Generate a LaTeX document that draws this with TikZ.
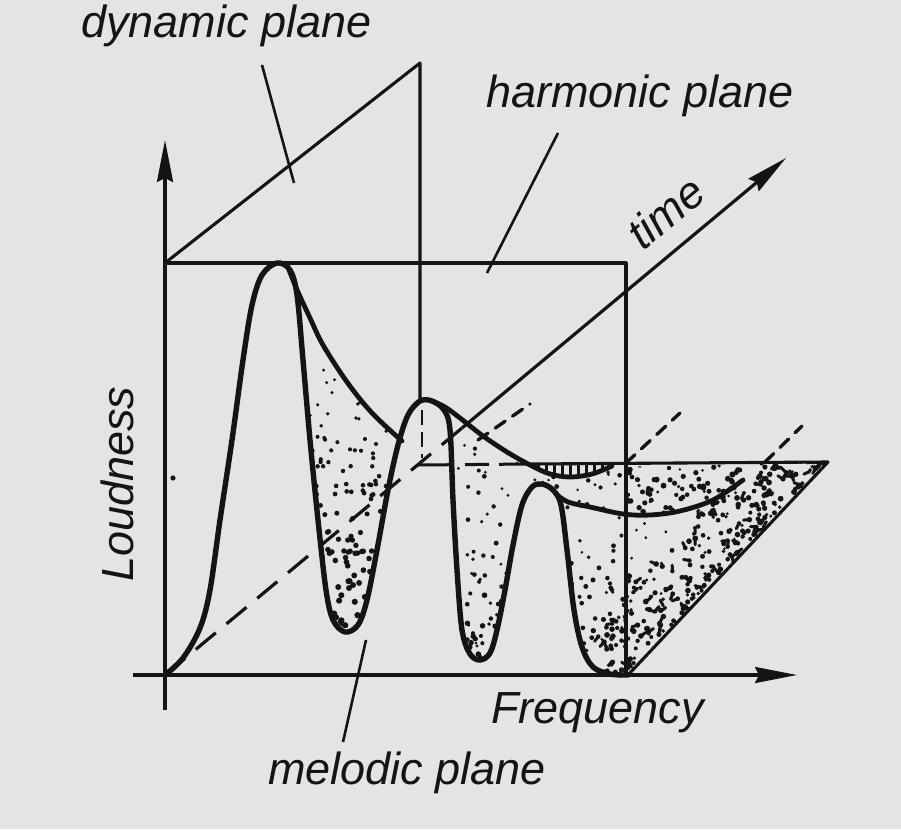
\documentclass[tikz,border=0pt]{standalone}
\usepackage{fontspec}
\setmainfont{Liberation Sans}
\usetikzlibrary{arrows.meta}
\definecolor{bg}{RGB}{228,228,228}
\definecolor{ink}{RGB}{20,20,20}
\tikzset{
  thinl/.style={draw=ink, line width=3.1pt},
  curvel/.style={draw=ink, line width=5.4pt, line cap=round},
  envl/.style={draw=ink, line width=4.8pt, line cap=round},
  leader/.style={draw=ink, line width=2.6pt},
  dashl/.style={draw=ink, line width=3.2pt, dash pattern=on 26pt off 14pt},
  dashs/.style={draw=ink, line width=3.4pt, dash pattern=on 12pt off 9pt, line cap=round},
  arr/.style={-{Stealth[length=42pt,width=16pt,inset=4pt]}},
  lab/.style={font=\fontsize{45}{52}\selectfont\itshape, text=ink, inner sep=0pt},
}
\begin{document}
\begin{tikzpicture}[x=1pt,y=-1pt,line join=round]
\useasboundingbox (0,0) rectangle (901,829);
\fill[bg] (0,0) rectangle (901,829);

% named points
\coordinate (O) at (165,675);
\coordinate (Ytop) at (165,140);
\coordinate (Ybot) at (165,710);
\coordinate (Xl) at (133,675);
\coordinate (Xr) at (797,675);
\coordinate (H1) at (165,263);
\coordinate (H2) at (626,263);
\coordinate (H3) at (626,675);
\coordinate (D) at (420,63);
\coordinate (Dd) at (420,401);
\coordinate (Dv1) at (422,410);
\coordinate (Dv2) at (422,458);
\coordinate (B0) at (418,465);
\coordinate (Bm) at (531,464);
\coordinate (Br) at (828,462);
\coordinate (Tr) at (628,675);
\coordinate (Tmid) at (462,428);
\coordinate (Tend) at (786,158);
\coordinate (L2a) at (478,440);
\coordinate (L2b) at (530,404);
\coordinate (L3a) at (626,463);
\coordinate (L3b) at (680,413);
\coordinate (L4a) at (765,462);
\coordinate (L4b) at (802,426);

% ---------- stipple region 1 ----------
\begin{scope}
\clip plot[smooth cycle] coordinates {(299,300) (312,322) (325,348) (348,384) (372,414) (398,441) (390,485) (379,545) (368,598) (357,622) (345,628) (335,618) (328,588) (320,520) (312,440) (305,360)};
\pgfmathsetseed{11}
\foreach \i in {1,...,210}{
  \pgfmathsetmacro\u{rnd}
  \pgfmathsetmacro\py{300+335*sqrt(\u)}
  \pgfmathsetmacro\px{295+110*rnd}
  \pgfmathsetmacro\r{1.1+2.2*(\py-300)/335}
  \fill[ink] (\px,\py) circle (\r pt);
}
\end{scope}

% ---------- stipple region 2 ----------
\begin{scope}
\clip (451,416) -- (460,420) -- (483,437) -- (507,453) -- (530,466) -- (550,475) -- (570,478) -- (592,475) -- (612,467) -- (Br) -- (Tr) -- (613,673) -- (593,667) -- (582,647) -- (574,610) -- (567,550) -- (561,505) -- (553,490) -- (542,484) -- (532,487) -- (522,505) -- (513,545) -- (505,590) -- (497,630) -- (490,653) -- (480,660) -- (470,654) -- (462,630) -- (457,570) -- (453,500) -- (450,430) -- cycle;
\pgfmathsetseed{23}
% uniform layer
\foreach \i in {1,...,340}{
  \pgfmathsetmacro\px{448+380*rnd}
  \pgfmathsetmacro\py{415+260*rnd}
  \pgfmathsetmacro\r{1.4+1.1*rnd}
  \fill[ink] (\px,\py) circle (\r pt);
}
% denser towards the bottoms of the troughs
\foreach \i in {1,...,140}{
  \pgfmathsetmacro\u{rnd}
  \pgfmathsetmacro\py{540+135*sqrt(\u)}
  \pgfmathsetmacro\px{450+180*rnd}
  \pgfmathsetmacro\r{1.8+1.1*rnd}
  \fill[ink] (\px,\py) circle (\r pt);
}
% large dots right of the harmonic plane, near the top
\foreach \i in {1,...,70}{
  \pgfmathsetmacro\px{626+150*rnd}
  \pgfmathsetmacro\py{466+48*rnd}
  \pgfmathsetmacro\r{2.2+0.9*rnd}
  \fill[ink] (\px,\py) circle (\r pt);
}
% clustered marks along the diagonal edge
\foreach \i in {1,...,190}{
  \pgfmathsetmacro\t{rnd}
  \pgfmathsetmacro\v{rnd}
  \pgfmathsetmacro\d{4+55*\v*\v}
  \pgfmathsetmacro\px{628+200*\t-0.727*\d}
  \pgfmathsetmacro\py{675-213*\t-0.686*\d}
  \pgfmathsetmacro\r{1.8+1.1*rnd}
  \pgfmathsetmacro\a{360*rnd}
  \fill[ink] (\px,\py) circle (\r pt);
  \ifnum\i<80
    \draw[ink, line width=3pt, line cap=round] (\px,\py) -- ++(\a:6pt);
  \fi
}
\end{scope}

% hatched bowl under the back line
\begin{scope}
\clip (531,463) -- (612,463) -- (612,466) .. controls (590,478) and (555,478) .. (531,465) -- cycle;
\foreach \xx in {538,546,...,606}{
  \draw[ink, line width=3pt] (\xx,458) -- (\xx,482);
}
\end{scope}

% ---------- axes ----------
\draw[thinl] (Ybot) -- (H1);
\draw[thinl, arr] (H1) -- (Ytop);
\draw[thinl, arr] (Xl) -- (Xr);

% harmonic plane
\draw[thinl] (H1) -- (H2) -- (H3);
% dynamic plane
\draw[thinl] (H1) -- (D) -- (Dd);
\draw[draw=ink, line width=2.8pt, dash pattern=on 15pt off 7pt] (Dv1) -- (Dv2);
% back plane
\draw[draw=ink, line width=3pt, dash pattern=on 34pt off 13pt on 24pt off 10pt] (B0) -- (Bm);
\draw[thinl] (Bm) -- (Br) -- (Tr);

% time axis
\draw[dashl] (O) -- (Tmid);
\draw[draw=ink, line width=3.2pt, arr] (Tmid) -- (Tend);
% depth dashed lines
\draw[dashs] (L2a) -- (L2b);
\draw[dashs] (L3a) -- (L3b);
\draw[dashs] (L4a) -- (L4b);

% ---------- curves ----------
\draw[curvel] plot[smooth, tension=0.55] coordinates {(165,675) (183,658) (200,628) (210,590) (220,520) (232,440) (243,360) (252,305) (262,275) (277,263) (290,270) (297,295) (303,360) (310,440) (318,520) (326,590) (333,620) (345,632) (358,625) (367,600) (377,550) (388,490) (398,445) (408,415) (420,401) (432,401) (444,410) (450,430) (453,500) (457,570) (462,630) (470,654) (480,660) (490,653) (497,630) (505,590) (513,545) (522,505) (532,487) (542,484) (553,490) (561,505) (567,550) (574,610) (582,647) (593,667) (610,674) (628,675)};
\draw[envl] plot[smooth, tension=0.55] coordinates {(289,270) (298,292) (310,318) (323,345) (347,382) (372,413) (402,441)};
\draw[envl] plot[smooth, tension=0.55] coordinates {(432,401) (445,407) (460,418) (483,436) (507,452) (530,465) (550,474) (570,477) (592,474) (612,466)};
\draw[envl] plot[smooth, tension=0.55] coordinates {(556,494) (568,502) (590,507) (623,514) (650,515) (680,511) (713,500) (743,480)};

% speck
\fill[ink] (173,478) circle (2.6pt);

% ---------- labels ----------
\node[lab, anchor=base west] (dyn) at (81,38) {dynamic plane};
\node[lab, anchor=base west] (harm) at (486,108) {harmonic plane};
\node[lab, anchor=base west, rotate=90] (loud) at (133,582) {Loudness};
\node[lab, anchor=base west] (freq) at (491,723) {Frequency};
\node[lab, anchor=base west] (mel) at (268,784) {melodic plane};
\node[lab, anchor=base west, rotate=40] (timel) at (643,252) {time};

% leaders
\coordinate (dynA) at (262,65);
\coordinate (dynB) at (294,183);
\coordinate (harA) at (558,133);
\coordinate (harB) at (487,273);
\coordinate (melA) at (366,640);
\coordinate (melB) at (343,742);
\draw[leader] (dynA) -- (dynB);
\draw[leader] (harA) -- (harB);
\draw[leader] (melA) -- (melB);
\end{tikzpicture}
\end{document}
